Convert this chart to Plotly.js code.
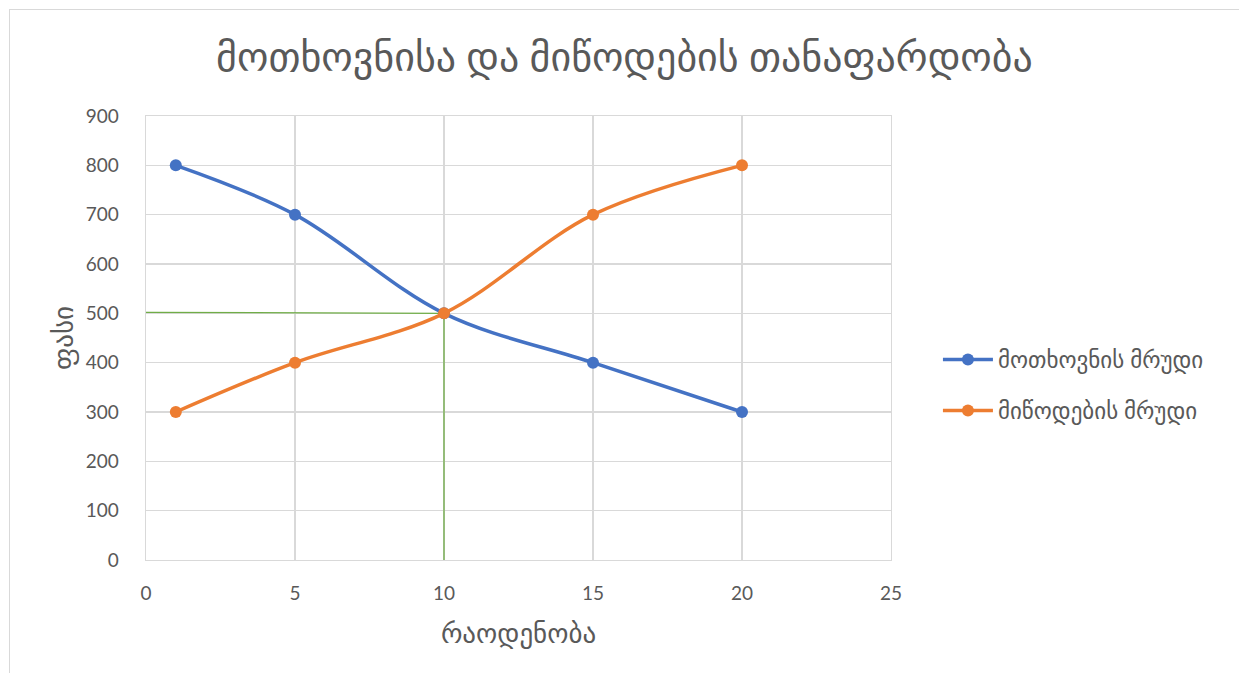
<!DOCTYPE html>
<html>
<head>
<meta charset="utf-8">
<script src="https://cdn.plot.ly/plotly-3.0.1.min.js"></script>
<style>
  html, body { margin: 0; padding: 0; background: #fff; }
  #wrap { position: relative; width: 1239px; height: 673px; overflow: hidden; }
  #chart { position: absolute; left: 0; top: 0; width: 1239px; height: 673px; }
  #frame { position: absolute; left: 9px; top: 9px; width: 1250px; height: 700px; border: 1.5px solid #D9D9D9; pointer-events: none; }
</style>
</head>
<body>
<div id="wrap">
  <div id="chart"></div>
  <div id="frame"></div>
</div>
<script>
const titleText = "მოთხოვნისა და მიწოდების თანაფარდობა";
const xTitle = "რაოდენობა";
const yTitle = "ფასი";
const quantity = [1, 5, 10, 15, 20];
const demandName = "მოთხოვნის მრუდი";
const demandPrice = [800, 700, 500, 400, 300];
const supplyName = "მიწოდების მრუდი";
const supplyPrice = [300, 400, 500, 700, 800];
const equilibriumX = [-0.1, 10, 10];
const equilibriumY = [502, 500, 0];

const fontFam = "Lato, 'DejaVu Sans', sans-serif";
const txtColor = "#595959";

const traces = [
  {
    x: equilibriumX, y: equilibriumY, type: "scatter", mode: "lines",
    line: {color: "#70AD47", width: 1.3}, showlegend: false, hoverinfo: "skip",
    cliponaxis: false, legendgroup: "eq"
  },
  {
    x: quantity, y: demandPrice, type: "scatter", mode: "lines+markers",
    name: demandName, legendgroup: "d",
    line: {color: "#4472C4", width: 3.5, shape: "spline", smoothing: 1},
    marker: {color: "#4472C4", size: 12}
  },
  {
    x: quantity, y: supplyPrice, type: "scatter", mode: "lines+markers",
    name: supplyName, legendgroup: "s",
    line: {color: "#ED7D31", width: 3.5, shape: "spline", smoothing: 1},
    marker: {color: "#ED7D31", size: 12}
  }
];

const layout = {
  width: 1239, height: 673,
  margin: {l: 146, r: 348, t: 116, b: 113, pad: 0},
  paper_bgcolor: "rgba(0,0,0,0)", plot_bgcolor: "#fff",
  font: {family: fontFam, color: txtColor, size: 16},
  title: {
    text: titleText, x: 0.504, xanchor: "center", xref: "container",
    y: 0.915, yanchor: "middle", yref: "container",
    font: {size: 40, color: txtColor, family: fontFam}
  },
  xaxis: {
    range: [0, 25], dtick: 5, tick0: 0,
    showgrid: true, gridcolor: "#D9D9D9", gridwidth: 1.3,
    zeroline: false, showline: true, linecolor: "#D9D9D9", linewidth: 1.3, mirror: true,
    ticks: "", ticklabelstandoff: 16,
    tickfont: {size: 19, color: txtColor, family: fontFam},
    title: {text: xTitle, font: {size: 27, color: txtColor, family: fontFam}, standoff: 21}
  },
  yaxis: {
    range: [0, 900], dtick: 100, tick0: 0,
    showgrid: true, gridcolor: "#D9D9D9", gridwidth: 1.3,
    zeroline: false, showline: true, linecolor: "#D9D9D9", linewidth: 1.3, mirror: true,
    ticks: "", ticklabelstandoff: 22,
    tickfont: {size: 19, color: txtColor, family: fontFam},
    title: {text: yTitle, font: {size: 27, color: txtColor, family: fontFam}, standoff: 4}
  },
  legend: {
    x: 1.063, xanchor: "left", y: 0.394, yanchor: "middle",
    font: {size: 23, color: txtColor, family: fontFam},
    traceorder: "grouped", tracegroupgap: 18, itemwidth: 50, bgcolor: "rgba(0,0,0,0)"
  },
  showlegend: true
};

Plotly.newPlot("chart", traces, layout, {displayModeBar: false, staticPlot: true});
</script>
</body>
</html>
